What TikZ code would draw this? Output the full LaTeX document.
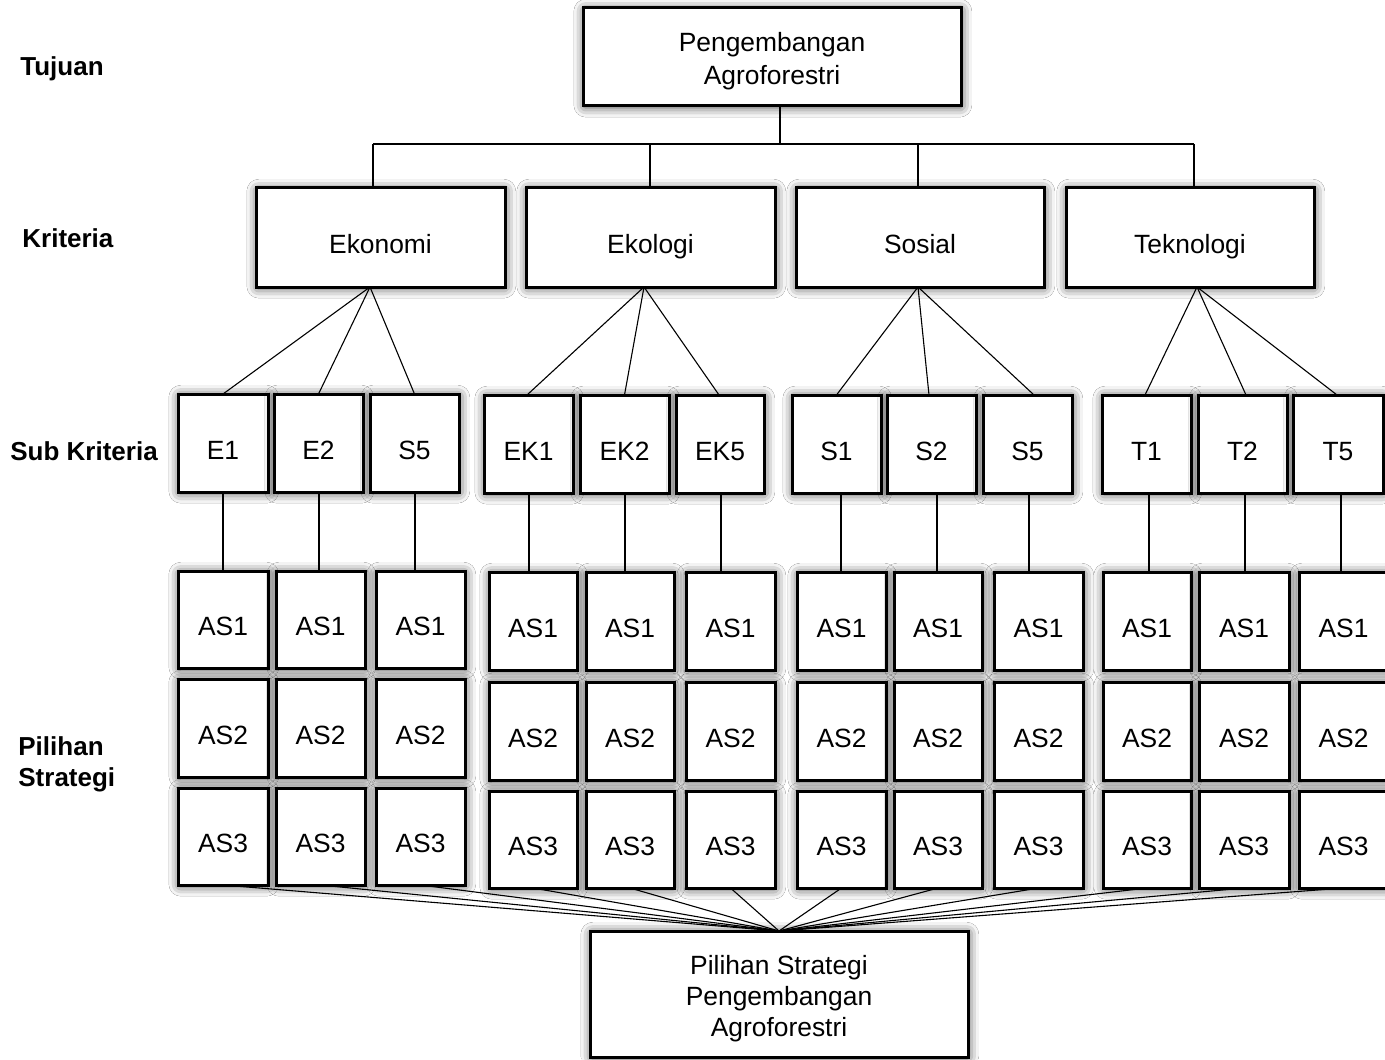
\documentclass[tikz,border=0pt]{standalone}
\usepackage{fontspec}
\setmainfont{Liberation Sans}
\usetikzlibrary{shadows.blur}
\newcommand{\mkbox}[7][]{\node[box,#1,minimum width={(#5-#3)*0.5pt},minimum height={(#6-#4)*0.5pt}] (#2) at ({(#3+#5)/2},{(#4+#6)/2}) {#7};}
\begin{document}
\begin{tikzpicture}[x=0.5pt,y=-0.5pt,
  box/.style={draw=black, line width=1.5pt, fill=white, inner sep=0pt, outer sep=0pt,
    font=\fontsize{13.2}{15.5}\selectfont,
    blur shadow={shadow xshift=0.4pt, shadow yshift=-0.6pt, shadow blur radius=5pt, shadow blur extra rounding=1pt, shadow opacity=75}},
  one/.style={text height=16.3pt, text depth=0pt},
  lbl/.style={font=\fontsize{13}{15.5}\selectfont\bfseries, inner sep=0pt},
  link/.style={draw=black, line width=0.55pt}]
\clip (0,0) rectangle (1385,1059);
\fill[white] (0,0) rectangle (1385,1059);
% level labels
\node[lbl, anchor=base west] (lTuj) at (20,76) {Tujuan};
\node[lbl, anchor=base west] (lKri) at (22,248) {Kriteria};
\node[lbl, anchor=base west] (lSub) at (10,460) {Sub Kriteria};
\node[lbl, anchor=west, align=left] (lPil) at (18,764) {Pilihan\\Strategi};
% goal
\mkbox[align=center, font=\fontsize{13.2}{16.5}\selectfont]{top}{583}{8}{961}{106}{\rule{0pt}{13.5pt}Pengembangan\\Agroforestri}
% criteria
\mkbox[one]{eko}{256}{188}{505}{287}{Ekonomi}
\mkbox[one]{ekl}{526}{188}{775}{287}{Ekologi}
\mkbox[one]{sos}{796}{188}{1044}{287}{Sosial}
\mkbox[one]{tek}{1066}{188}{1314}{287}{Teknologi}
% sub criteria
\mkbox[one]{sE1}{178}{394}{268}{492}{E1}
\mkbox[one]{sE2}{274}{394}{363}{492}{E2}
\mkbox[one]{sE3}{370}{394}{459}{492}{S5}
\mkbox[one]{sK1}{484}{395}{573}{493}{EK1}
\mkbox[one]{sK2}{580}{395}{669}{493}{EK2}
\mkbox[one]{sK3}{676}{395}{764}{493}{EK5}
\mkbox[one]{sS1}{792}{395}{881}{493}{S1}
\mkbox[one]{sS2}{887}{395}{976}{493}{S2}
\mkbox[one]{sS3}{983}{395}{1072}{493}{S5}
\mkbox[one]{sT1}{1102}{395}{1191}{493}{T1}
\mkbox[one]{sT2}{1198}{395}{1287}{493}{T2}
\mkbox[one]{sT3}{1293}{395}{1383}{493}{T5}
% alternatives
\foreach \n/\xa/\xb in {E1/178/268, E2/276/365, E3/376/465}{
  \foreach \r/\ya/\yb in {1/571/668, 2/679/777, 3/788/885}{
    \mkbox[one]{a\n\r}{\xa}{\ya}{\xb}{\yb}{AS\r}
  }
}
\foreach \n/\xa/\xb in {K1/489/577, K2/586/674, K3/686/775, S1/797/886, S2/894/982, S3/994/1083, T1/1103/1191, T2/1199/1289, T3/1299/1388}{
  \foreach \r/\ya/\yb in {1/572/670, 2/682/780, 3/791/888}{
    \mkbox[one]{a\n\r}{\xa}{\ya}{\xb}{\yb}{AS\r}
  }
}
% final
\mkbox[align=center]{bot}{590}{931}{968}{1057}{\rule{0pt}{14pt}Pilihan Strategi\\Pengembangan\\Agroforestri}
% goal to criteria
\coordinate (busL) at (373,144);
\coordinate (busR) at (1194,144);
\coordinate (dTop) at ([xshift=4pt]top.south);
\path[link] (dTop) -- (dTop |- busL);
\path[link] (busL) -- (busR);
\coordinate (dE) at ([xshift=-3.75pt]eko.north);
\coordinate (dK) at ([xshift=-0.25pt]ekl.north);
\coordinate (dS) at ([xshift=-1pt]sos.north);
\coordinate (dT) at ([xshift=2pt]tek.north);
\foreach \d in {dE,dK,dS,dT}{\path[link] (\d |- busL) -- (\d);}
% criteria to sub criteria
\coordinate (apE) at ([xshift=-5.25pt]eko.south);
\coordinate (apK) at ([xshift=-3.25pt]ekl.south);
\coordinate (apS) at ([xshift=-1pt]sos.south);
\coordinate (apT) at ([xshift=3.5pt]tek.south);
\path[link] (apE) -- (sE1.north);
\path[link] (apE) -- (sE2.north);
\path[link] (apE) -- (sE3.north);
\path[link] (apK) -- ([xshift=-0.75pt]sK1.north);
\path[link] (apK) -- (sK2.north);
\path[link] (apK) -- ([xshift=-0.5pt]sK3.north);
\path[link] (apS) -- (sS1.north);
\path[link] (apS) -- ([xshift=-1.25pt]sS2.north);
\path[link] (apS) -- ([xshift=3.25pt]sS3.north);
\path[link] (apT) -- ([xshift=-0.75pt]sT1.north);
\path[link] (apT) -- ([xshift=1.75pt]sT2.north);
\path[link] (apT) -- ([xshift=-0.5pt]sT3.north);
% sub criteria to alternatives
\foreach \n/\s in {E1/0pt, E2/0.25pt, E3/0.25pt, K1/0.25pt, K2/0.25pt, K3/0.5pt, S1/2.25pt, S2/2.75pt, S3/0.75pt, T1/1.25pt, T2/1.25pt, T3/1.5pt}{
  \path[link] ([xshift=\s]s\n.south) -- ([xshift=\s]s\n.south |- a\n1.north);
}
% alternatives to final
\foreach \n in {E1,E2,E3,K1,K2,K3,S1,S2,S3,T1,T2,T3}{
  \path[link] (a\n3.south) -- (bot.north);
}
\end{tikzpicture}
\end{document}
